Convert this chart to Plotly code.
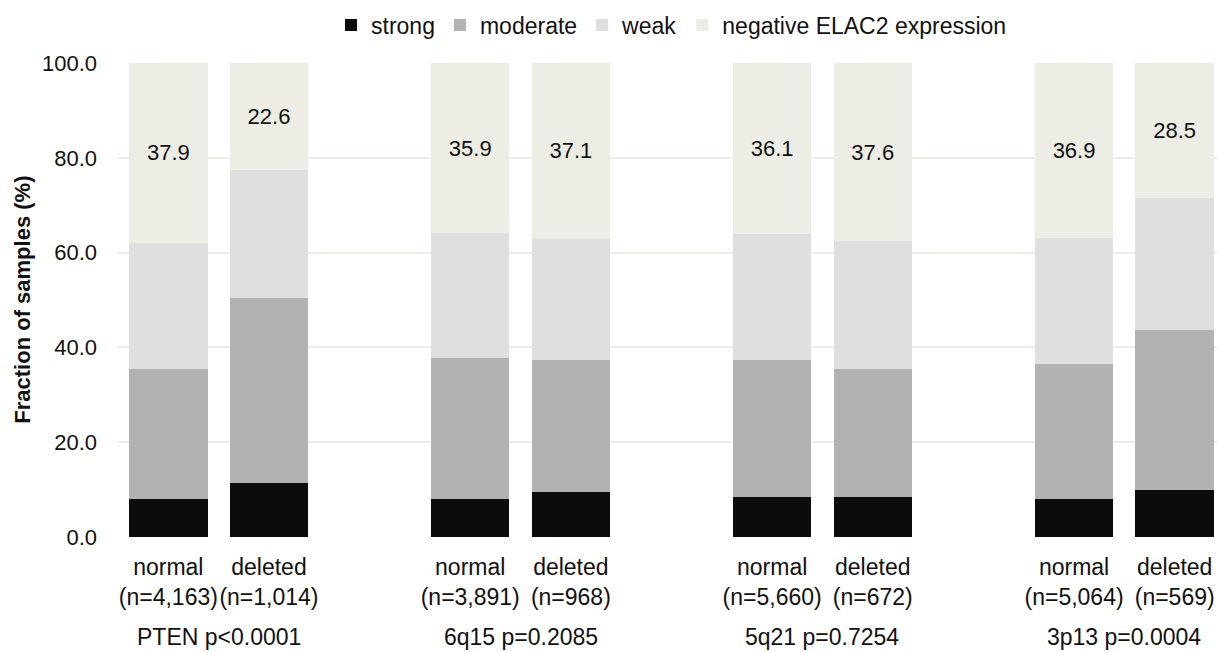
import plotly.graph_objects as go

# ---- data ----
groups = ["PTEN p<0.0001", "6q15 p=0.2085", "5q21 p=0.7254", "3p13 p=0.0004"]
bar_labels = [
    "normal<br>(n=4,163)", "deleted<br>(n=1,014)",
    "normal<br>(n=3,891)", "deleted<br>(n=968)",
    "normal<br>(n=5,660)", "deleted<br>(n=672)",
    "normal<br>(n=5,064)", "deleted<br>(n=569)",
]
bar_pos = [0, 1, 3, 4, 6, 7, 9, 10]
group_pos = [0.5, 3.5, 6.5, 9.5]

strong = [8.0, 11.3, 8.0, 9.4, 8.4, 8.4, 8.0, 9.9]
moderate = [27.4, 39.2, 29.7, 27.9, 29.0, 27.0, 28.4, 33.7]
weak = [26.7, 26.9, 26.4, 25.6, 26.5, 27.0, 26.7, 27.9]
negative = [37.9, 22.6, 35.9, 37.1, 36.1, 37.6, 36.9, 28.5]

series_names = ["strong", "moderate", "weak", "negative ELAC2 expression"]
series_values = [strong, moderate, weak, negative]
series_colors = ["#0C0C0C", "#B2B2B2", "#DFDFDF", "#EDEDE6"]

FONT = "Liberation Sans, Arial, sans-serif"
TXT = "#111111"

fig = go.Figure()
for name, vals, col in zip(series_names, series_values, series_colors):
    show_text = name.startswith("negative")
    fig.add_trace(go.Bar(
        x=bar_pos, y=vals, name=name, width=0.78,
        marker=dict(color=col, line=dict(width=0)),
        text=[f"{v:.1f}" for v in vals] if show_text else None,
        textposition="inside" if show_text else "none",
        insidetextanchor="middle",
        textangle=0,
        constraintext="none",
        textfont=dict(size=22, color=TXT, family=FONT),
    ))

for g, p in zip(groups, group_pos):
    fig.add_annotation(x=p, y=-0.211, xref="x", yref="paper", text=g,
                       showarrow=False, xanchor="center", yanchor="middle",
                       font=dict(size=23, color=TXT, family=FONT))

fig.add_annotation(x=-0.087, y=0.5, xref="paper", yref="paper",
                   text="<b>Fraction of samples (%)</b>", textangle=-90,
                   showarrow=False, xanchor="center", yanchor="middle",
                   font=dict(size=22, color=TXT, family=FONT))

fig.update_layout(
    width=1217, height=644,
    barmode="stack",
    paper_bgcolor="white", plot_bgcolor="white",
    margin=dict(l=110, r=0, t=55, b=115, autoexpand=False),
    font=dict(family=FONT, size=22, color=TXT),
    showlegend=True,
    legend=dict(orientation="h", x=0.5, xanchor="center", y=1.08, yanchor="middle",
                traceorder="normal", font=dict(size=23, family=FONT, color=TXT),
                itemwidth=30, bgcolor="rgba(0,0,0,0)"),
    xaxis=dict(range=[-0.5, 10.5], tickmode="array", tickvals=bar_pos, ticktext=bar_labels,
               tickangle=0, automargin=False,
               showgrid=False, zeroline=False, showline=False, ticks="",
               ticklabelstandoff=14, tickfont=dict(size=23, family=FONT, color=TXT)),
    yaxis=dict(range=[0, 100], tickmode="array", tickvals=[0, 20, 40, 60, 80, 100],
               tickformat=".1f", showgrid=True, gridcolor="#EEEEE6", gridwidth=1.5,
               automargin=False,
               zeroline=False, showline=False, ticks="", ticklabelstandoff=20,
               tickfont=dict(size=22, family=FONT, color=TXT)),
)

fig.write_html("out.html")
